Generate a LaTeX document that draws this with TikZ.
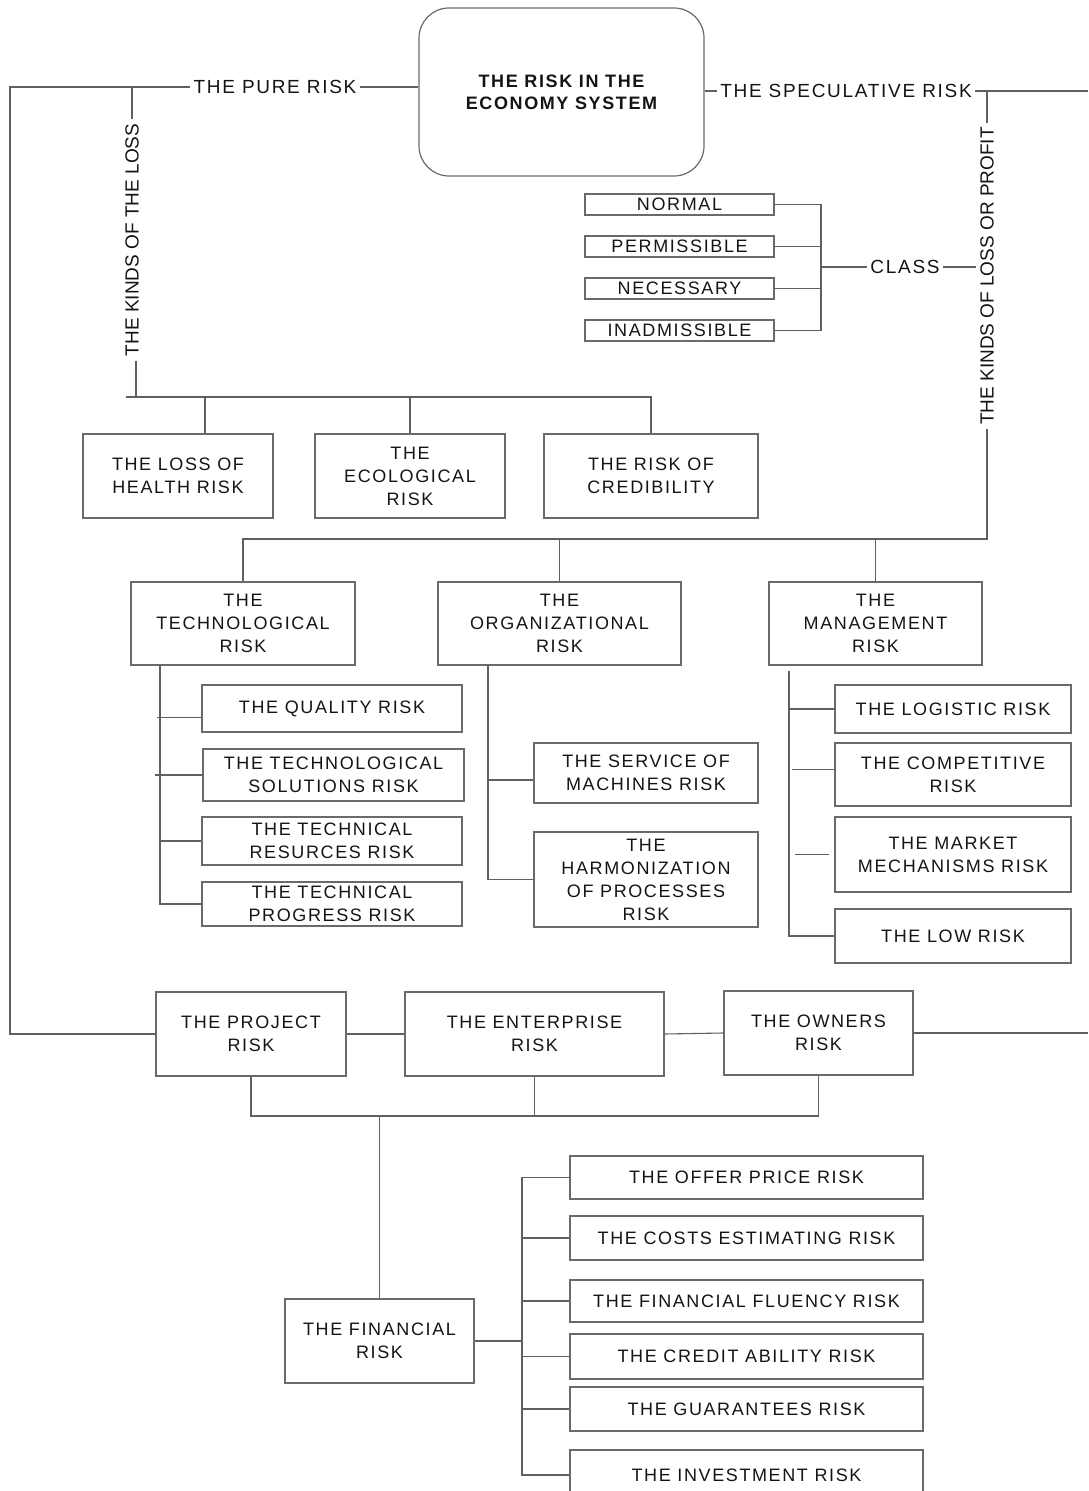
\documentclass[tikz,border=0pt]{standalone}
\usepackage{fontspec}
\setmainfont{Liberation Sans}
\newfontfamily\lsp[LetterSpace=9]{Liberation Sans}
\definecolor{linegray}{HTML}{606060}
\definecolor{bordergray}{HTML}{6A6A6A}
\definecolor{textc}{HTML}{141414}
\newcommand\bx[6]{\node[box, minimum width={(#4-#2)*0.5pt}, minimum height={(#5-#3)*0.5pt}] (#1) at ({(#2+#4)/2},{(#3+#5)/2}) {#6};}
\begin{document}
\begin{tikzpicture}[x=0.5pt,y=-0.5pt,
 box/.style={draw=bordergray, line width=0.6pt, align=center, inner sep=0pt, text=textc, font=\lsp\fontsize{9}{11.5}\selectfont},
 conn/.style={draw=linegray, line width=0.55pt},
 lab/.style={inner sep=1.5pt, text=textc, font=\lsp\fontsize{9.5}{11}\selectfont},
 vlab/.style={rotate=90, inner sep=2pt, text=textc, font=\fontsize{9.5}{11}\selectfont}]
\useasboundingbox (0,0) rectangle (1088,1491);
% main
\node[box, rounded corners=15pt, minimum width=142.5pt, minimum height=84pt, font=\lsp\bfseries\fontsize{9}{11}\selectfont] (main) at (561.5,92) {THE RISK IN THE\\ECONOMY SYSTEM};
\coordinate (LT) at (10,87);
\coordinate (LB) at (10,1034);
\coordinate (RT) at (1088,92);
\coordinate (RB) at (1088,1034);
\coordinate (b1) at (0,397);
\coordinate (b2) at (0,539);
\coordinate (b3) at (0,1116);
\coordinate (cv) at (821,0);
\coordinate (tv) at (160,0);
\coordinate (ov) at (488,0);
\coordinate (mv) at (789,0);
\coordinate (fv) at (522,0);
% labels
\node[lab] (pure) at (275,87) {THE PURE RISK};
\node[lab] (spec) at (846,91) {THE SPECULATIVE RISK};
\node[vlab] (kl) at (132,240) {THE KINDS OF THE LOSS};
\node[vlab] (kp) at (987,276) {THE KINDS OF LOSS OR PROFIT};
\node[lab] (class) at (905,267) {CLASS};
% class boxes
\bx{normal}{585}{194}{774}{215}{NORMAL}
\bx{perm}{585}{236}{774}{257}{PERMISSIBLE}
\bx{nec}{585}{278}{774}{299}{NECESSARY}
\bx{inad}{585}{320}{774}{341}{INADMISSIBLE}
% level 1
\bx{health}{83}{434}{273}{518}{THE LOSS OF\\HEALTH RISK}
\bx{eco}{315}{434}{505}{518}{THE\\ECOLOGICAL\\RISK}
\bx{cred}{544}{434}{758}{518}{THE RISK OF\\CREDIBILITY}
% level 2
\bx{tech}{131}{582}{355}{665}{THE\\TECHNOLOGICAL\\RISK}
\bx{org}{438}{582}{681}{665}{THE\\ORGANIZATIONAL\\RISK}
\bx{man}{769}{582}{982}{665}{THE\\MANAGEMENT\\RISK}
% tech children
\bx{qual}{202}{685}{462}{732}{THE QUALITY RISK}
\bx{sol}{203}{749}{464}{801}{THE TECHNOLOGICAL\\SOLUTIONS RISK}
\bx{res}{202}{817}{462}{865}{THE TECHNICAL\\RESURCES RISK}
\bx{prog}{202}{882}{462}{926}{THE TECHNICAL\\PROGRESS RISK}
% org children
\bx{serv}{534}{743}{758}{803}{THE SERVICE OF\\MACHINES RISK}
\bx{harm}{534}{832}{758}{927}{THE\\HARMONIZATION\\OF PROCESSES\\RISK}
% man children
\bx{logi}{835}{685}{1071}{733}{THE LOGISTIC RISK}
\bx{comp}{835}{743}{1071}{806}{THE COMPETITIVE\\RISK}
\bx{mark}{835}{817}{1071}{892}{THE MARKET\\MECHANISMS RISK}
\bx{low}{835}{909}{1071}{963}{THE LOW RISK}
% bottom row
\bx{proj}{156}{992}{346}{1076}{THE PROJECT\\RISK}
\bx{ent}{405}{992}{664}{1076}{THE ENTERPRISE\\RISK}
\bx{own}{724}{991}{913}{1075}{THE OWNERS\\RISK}
\bx{fin}{285}{1299}{474}{1383}{THE FINANCIAL\\RISK}
% financial children
\bx{offer}{570}{1156}{923}{1199}{THE OFFER PRICE RISK}
\bx{cost}{570}{1216}{923}{1260}{THE COSTS ESTIMATING RISK}
\bx{flu}{570}{1280}{923}{1322}{THE FINANCIAL FLUENCY RISK}
\bx{credit}{570}{1334}{923}{1379}{THE CREDIT ABILITY RISK}
\bx{guar}{570}{1387}{923}{1431}{THE GUARANTEES RISK}
\bx{inv}{570}{1450}{923}{1500}{THE INVESTMENT RISK}
% connectors top
\draw[conn] (pure.east) -- (pure.east -| main.west);
\draw[conn] (pure.west) -- (LT) -- (LB) -- (proj.west);
\draw[conn] (spec.west -| main.east) -- (spec.west);
\draw[conn] (spec.east) -- (spec.east -| RT);
\draw[conn] (kl.east) -- (kl.east |- pure);
\draw[conn] ([xshift=2pt]kl.west) -- ([xshift=2pt]kl.west |- b1);
\draw[conn] ([xshift=-3pt]kl.west |- b1) -- (cred.north |- b1) -- (cred.north);
\draw[conn] ([xshift=13.5pt]health.north) -- ([xshift=13.5pt]health.north |- b1);
\draw[conn] (eco.north) -- (eco.north |- b1);
\draw[conn] (kp.east) -- (kp.east |- spec.east);
\draw[conn] (kp.west) |- (tech.north |- b2) -- (tech.north);
\draw[conn] (org.north) -- (org.north |- b2);
\draw[conn] (man.north) -- (man.north |- b2);
% class
\draw[conn] (normal.east) -- (normal.east -| cv) -- (inad.east -| cv) -- (inad.east);
\draw[conn] (perm.east) -- (perm.east -| cv);
\draw[conn] (nec.east) -- (nec.east -| cv);
\draw[conn] (class.west) -- (class.west -| cv);
\draw[conn] (class.east) -- (class.east -| kp.north);
% tech
\draw[conn] (tech.south -| tv) -- (prog.west -| tv) -- (prog.west);
\draw[conn] ([yshift=-4.5pt]qual.west) -- ([xshift=-1.5pt,yshift=-4.5pt]qual.west -| tv);
\draw[conn] (sol.west) -- ([xshift=-2.5pt]sol.west -| tv);
\draw[conn] (res.west) -- (res.west -| tv);
% org
\draw[conn] (org.south -| ov) |- (harm.west);
\draw[conn] ([yshift=-3.5pt]serv.west) -- ([yshift=-3.5pt]serv.west -| ov);
% man
\draw[conn] ([yshift=-2.5pt]man.south -| mv) |- (low.west);
\draw[conn] (logi.west) -- (logi.west -| mv);
\draw[conn] ([yshift=2.5pt]comp.west) -- ([xshift=1.5pt,yshift=2.5pt]comp.west -| mv);
\draw[conn] ([xshift=-2.5pt]mark.west) -- ([xshift=3pt]mark.west -| mv);
% bottom
\draw[conn] (proj.east) -- (ent.west);
\draw[conn] (ent.east) -- (own.west);
\draw[conn] (own.east) -- (own.east -| RB);
\draw[conn] (proj.south) |- (own.south |- b3) -- (own.south);
\draw[conn] (ent.south) -- (ent.south |- b3);
\draw[conn] (fin.north) -- (fin.north |- b3);
% financial
\draw[conn] (fin.east) -- (fin.east -| fv);
\draw[conn] (offer.west) -- (offer.west -| fv) -- (inv.west -| fv) -- (inv.west);
\draw[conn] (cost.west) -- (cost.west -| fv);
\draw[conn] (flu.west) -- (flu.west -| fv);
\draw[conn] (credit.west) -- (credit.west -| fv);
\draw[conn] (guar.west) -- (guar.west -| fv);
\end{tikzpicture}
\end{document}
